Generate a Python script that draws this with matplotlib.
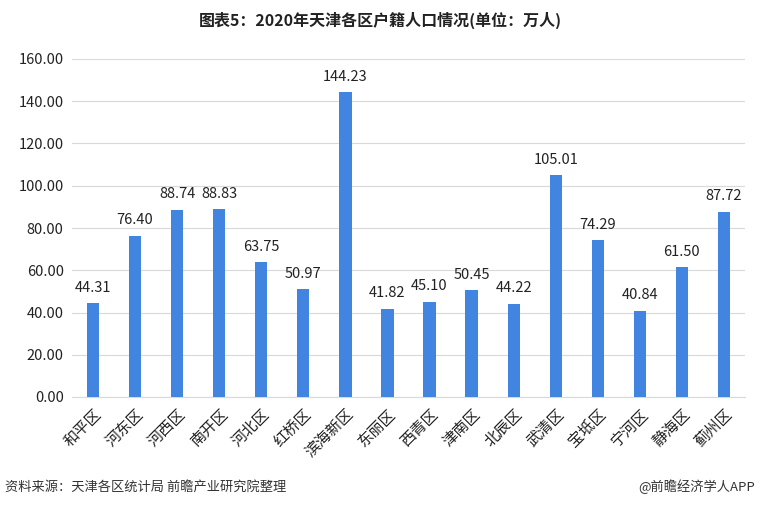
import matplotlib
matplotlib.use("Agg")
import matplotlib.pyplot as plt

plt.rcParams['font.family'] = ['Noto Sans CJK SC', 'DejaVu Sans']

districts = ["和平区", "河东区", "河西区", "南开区", "河北区", "红桥区", "滨海新区", "东丽区",
             "西青区", "津南区", "北辰区", "武清区", "宝坻区", "宁河区", "静海区", "蓟州区"]
population = [44.31, 76.40, 88.74, 88.83, 63.75, 50.97, 144.23, 41.82,
              45.10, 50.45, 44.22, 105.01, 74.29, 40.84, 61.50, 87.72]
yticks = [0, 20, 40, 60, 80, 100, 120, 140, 160]

fig = plt.figure(figsize=(7.6, 5.07), dpi=100)
ax = fig.add_axes([72/760, 1 - 397/507, (745-72)/760, (397-59)/507])

x = list(range(len(districts)))
bars = ax.bar(x, population, width=0.29, color="#4285E0", zorder=3)
for xi, v in zip(x, population):
    ax.text(xi, v + 4, f"{v:.2f}", ha="center", va="bottom", fontsize=10.5, color="#222222")

ax.set_ylim(0, 160)
ax.set_xlim(-0.5, len(districts) - 0.5)
ax.set_yticks(yticks)
ax.set_yticklabels([f"{t:.2f}" for t in yticks], fontsize=10.5, color="#222222")
ax.set_xticks(x)
ax.set_xticklabels(districts, rotation=45, ha="right", rotation_mode="anchor", fontsize=11, color="#222222")
ax.tick_params(axis="both", length=0, pad=6)
ax.grid(axis="y", color="#d9d9d9", linewidth=0.8, zorder=0)
for s in ["top", "right", "left"]:
    ax.spines[s].set_visible(False)
ax.spines["bottom"].set_color("#d9d9d9")

fig.text(0.5, 1 - 20/507, "图表5：2020年天津各区户籍人口情况(单位：万人)", ha="center", va="center",
         fontsize=11.5, fontweight="bold", color="#222222")
fig.text(5/760, 1 - 487/507, "资料来源：天津各区统计局 前瞻产业研究院整理", ha="left", va="center",
         fontsize=9.5, color="#333333")
fig.text(755/760, 1 - 487/507, "@前瞻经济学人APP", ha="right", va="center",
         fontsize=9.5, color="#333333")

fig.savefig("out.png", dpi=100)
